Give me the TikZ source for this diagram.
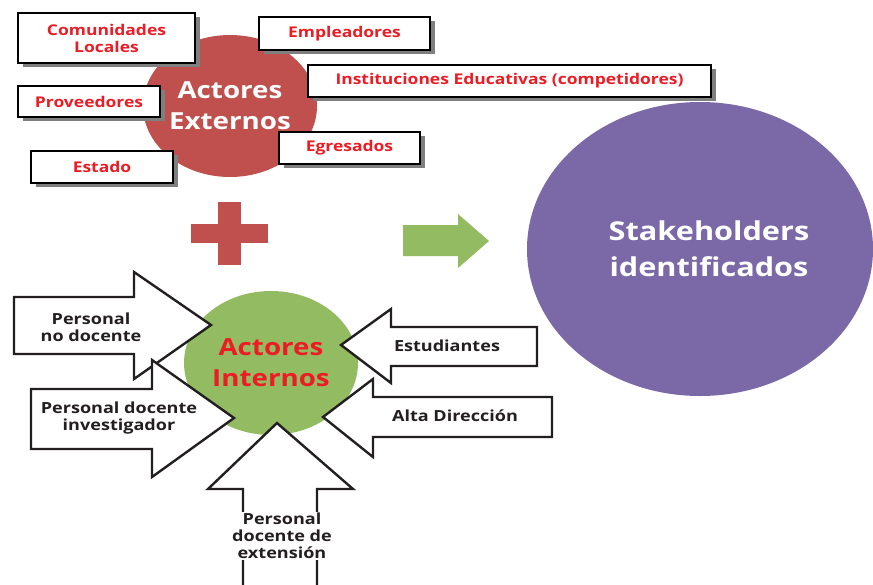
\documentclass[tikz,border=0pt]{standalone}
\usepackage{fontspec}
\setsansfont{Open Sans}[FakeStretch=1.18]
\renewcommand{\familydefault}{\sfdefault}
\usetikzlibrary{shapes.geometric,shadows}
\definecolor{extred}{HTML}{C0504D}
\definecolor{intgreen}{HTML}{93BB62}
\definecolor{stpurple}{HTML}{7B68A6}
\definecolor{txtred}{HTML}{ED1C24}
\definecolor{txtdark}{HTML}{231F20}
\definecolor{shadowgray}{HTML}{7F7F7F}
\begin{document}
\begin{tikzpicture}[x=1pt,y=-1pt,
  extbox/.style={draw=black, line width=2.2pt, fill=white, inner sep=0pt,
    font=\bfseries\fontsize{14.8}{17}\selectfont, text=txtred, align=center,
    drop shadow={shadow xshift=5pt, shadow yshift=-4pt, fill=shadowgray, opacity=1}},
  bigcirc/.style={ellipse, inner sep=0pt, align=center},
  inarrow/.style={draw=txtdark, line width=2.4pt, fill=white, line join=miter},
  arrtext/.style={font=\bfseries\fontsize{15.3}{17}\selectfont, text=txtdark, align=center, inner sep=1pt}
]
\useasboundingbox (0,0) rectangle (873,584);
\clip (0,0) rectangle (873,584);

% Actores externos
\node[bigcirc, fill=extred, minimum width=174pt, minimum height=142pt,
  text=white, font=\bfseries\fontsize{23.5}{31}\selectfont] (ext) at (230,106) {Actores\\Externos};

\node[extbox, minimum width=177pt, minimum height=50pt] (comm) at (106.5,38) {Comunidades\\Locales};
\node[extbox, minimum width=171pt, minimum height=33pt] (empl) at (344.5,33.5) {Empleadores};
\node[extbox, minimum width=403pt, minimum height=32pt] (inst) at (509.5,81) {Instituciones Educativas (competidores)};
\node[extbox, minimum width=142pt, minimum height=31pt] (prov) at (89,101.5) {Proveedores};
\node[extbox, minimum width=141pt, minimum height=32pt] (egr) at (349.5,148) {Egresados};
\node[extbox, minimum width=142pt, minimum height=32pt] (est) at (102,167) {Estado};

% plus
\fill[extred] (191,224) rectangle (268,243);
\fill[extred] (218,202) rectangle (241,265);

% green arrow
\fill[intgreen] (403,225) -- (458,225) -- (458,214) -- (489,241) -- (458,268) -- (458,256) -- (403,256) -- cycle;

% stakeholders
\node[bigcirc, fill=stpurple, minimum width=346pt, minimum height=294pt] (stake) at (700,249) {};
\node[text=white, font=\bfseries\fontsize{26}{36}\selectfont, align=center] (staketxt) at (709,249) {Stakeholders\\identificados};

% Actores internos
\node[bigcirc, fill=intgreen, minimum width=174pt, minimum height=144pt,
  text=txtred, font=\bfseries\fontsize{23.5}{31}\selectfont] (int) at (271,363) {Actores\\Internos};

% inward arrows
\draw[inarrow] (14,297) -- (134,297) -- (134,272) -- (211,325) -- (134,379) -- (134,354) -- (14,354) -- cycle;
\draw[inarrow] (31,389) -- (152,389) -- (152,360) -- (234,418) -- (152,477) -- (152,449) -- (31,449) -- cycle;
\draw[inarrow] (243,600) -- (243,489) -- (208,489) -- (277,423) -- (353,489) -- (317,489) -- (317,600) -- cycle;
\draw[inarrow] (537,327) -- (391,327) -- (391,309) -- (341,345) -- (391,383) -- (391,366) -- (537,366) -- cycle;
\draw[inarrow] (552,397) -- (373,397) -- (373,379) -- (323,417) -- (373,457) -- (373,437) -- (552,437) -- cycle;

\node[arrtext] (pnd) at (91,327) {Personal\\no docente};
\node[arrtext] (pdi) at (119,418) {Personal docente\\investigador};
\node[arrtext, fill=white] (pde) at (282,536) {Personal\\docente de\\extensión};
\node[arrtext] (estu) at (447,346) {Estudiantes};
\node[arrtext] (alta) at (455,416) {Alta Dirección};
\end{tikzpicture}
\end{document}
